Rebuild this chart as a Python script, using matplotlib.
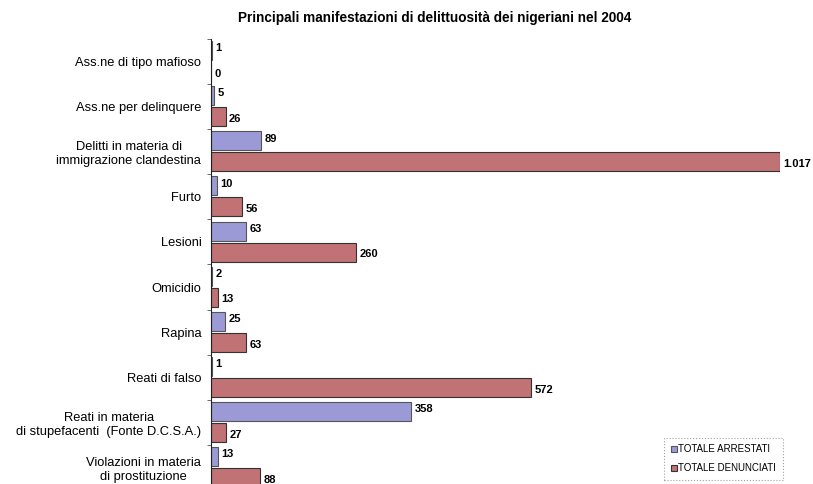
import matplotlib.pyplot as plt
import numpy as np

plt.rcParams['font.family'] = ['Liberation Sans', 'DejaVu Sans']

categorie = [
    "Ass.ne di tipo mafioso",
    "Ass.ne per delinquere",
    "Delitti in materia di\nimmigrazione clandestina",
    "Furto",
    "Lesioni",
    "Omicidio",
    "Rapina",
    "Reati di falso",
    "Reati in materia\ndi stupefacenti  (Fonte D.C.S.A.)",
    "Violazioni in materia\ndi prostituzione",
]
arrestati = [1, 5, 89, 10, 63, 2, 25, 1, 358, 13]
denunciati = [0, 26, 1017, 56, 260, 13, 63, 572, 27, 88]

col_arr = "#9b9ad6"
col_den = "#c07275"


def fmt(v):
    return f"{v:,}".replace(",", ".")


fig = plt.figure(figsize=(8.13, 4.84), dpi=100)
ax = fig.add_axes([211 / 813, -0.0124, (780 - 211) / 813, 0.932])

n = len(categorie)
pos = np.arange(n)
h = 0.42
y_arr = pos - 0.24
y_den = pos + 0.225

ax.barh(y_arr, arrestati, height=h, color=col_arr, edgecolor="#555555",
        linewidth=0.8, label="TOTALE ARRESTATI")
ax.barh(y_den, denunciati, height=h, color=col_den, edgecolor="#333333",
        linewidth=0.8, label="TOTALE DENUNCIATI")

for y, v in zip(y_arr, arrestati):
    ax.text(v + 6, y - 0.05, fmt(v), va="center", ha="left", fontsize=8,
            fontweight="bold", clip_on=False)
for y, v in zip(y_den, denunciati):
    ax.text(v + 6, y + 0.05, fmt(v), va="center", ha="left", fontsize=8,
            fontweight="bold", clip_on=False)

ax.set_xlim(0, 1017)
ax.set_ylim(n - 0.5, -0.5)
ax.set_yticks(pos)
ax.set_yticklabels(categorie, fontsize=9.3, multialignment="center")
ax.tick_params(axis="y", which="major", length=0, pad=7)
ax.set_yticks(np.arange(n + 1) - 0.5, minor=True)
ax.tick_params(axis="y", which="minor", length=3, color="#555555")
ax.set_xticks([])
for s in ["top", "right", "bottom"]:
    ax.spines[s].set_visible(False)
ax.spines["left"].set_color("#222222")

fig.text(0.535, 0.962, "Principali manifestazioni di delittuosità dei nigeriani nel 2004",
         ha="center", va="center", fontsize=9.8, fontweight="bold")

leg = ax.legend(loc="lower right", bbox_to_anchor=(783 / 813, 4 / 484),
                bbox_transform=fig.transFigure, fontsize=7, frameon=True,
                fancybox=False, handlelength=0.6, handleheight=0.6,
                handletextpad=0.2, borderpad=0.7, labelspacing=0.9,
                borderaxespad=0)
leg.get_frame().set_edgecolor("#888888")
leg.get_frame().set_linestyle(":")
leg.get_frame().set_linewidth(0.8)

fig.savefig("out.png", dpi=100)
